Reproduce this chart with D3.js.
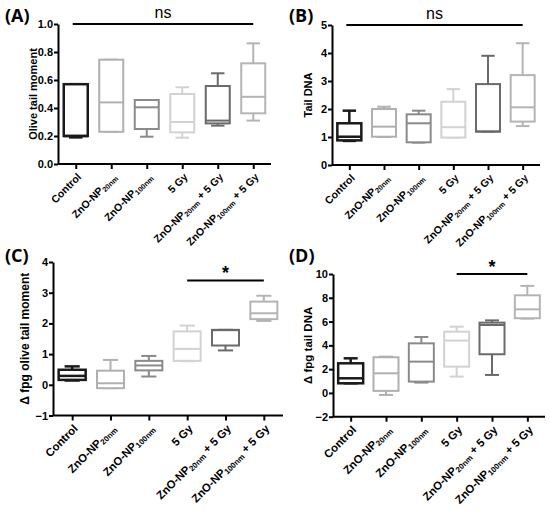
<!DOCTYPE html>
<html>
<head>
<meta charset="utf-8">
<script src="https://cdn.jsdelivr.net/npm/d3@7"></script>
<style>
    body { margin: 0; background: #fff; }
    text { font-family: "Liberation Sans", Arial, sans-serif; }
    .tag { font-family: "Open Sans", "Liberation Sans", sans-serif; font-weight: bold; font-size: 18px; }
</style>
</head>
<body>
<div id="chart"></div>
<script>
// groups on the x axis, "_" marks the subscript part
const categories = ["Control", "ZnO-NP_20nm", "ZnO-NP_100nm", "5 Gy", "ZnO-NP_20nm + 5 Gy", "ZnO-NP_100nm + 5 Gy"];

// five number summaries per group: [min, q1, median, q3, max]
const oliveTail = [
    [0.19, 0.20, 0.20, 0.57, 0.57],
    [0.23, 0.23, 0.44, 0.745, 0.745],
    [0.195, 0.25, 0.405, 0.457, 0.457],
    [0.188, 0.226, 0.30, 0.50, 0.548],
    [0.274, 0.29, 0.31, 0.557, 0.648],
    [0.31, 0.362, 0.48, 0.719, 0.862]
];
const tailDna = [
    [0.86, 0.88, 1.01, 1.49, 1.94],
    [1.0, 1.01, 1.37, 2.0, 2.08],
    [0.8, 0.81, 1.49, 1.81, 1.94],
    [0.98, 0.98, 1.35, 2.26, 2.71],
    [1.19, 1.19, 1.2, 2.89, 3.9],
    [1.39, 1.55, 2.06, 3.21, 4.35]
];
const fpgOlive = [
    [0.14, 0.16, 0.29, 0.49, 0.60],
    [-0.11, -0.11, 0.05, 0.46, 0.81],
    [0.27, 0.47, 0.63, 0.78, 0.94],
    [0.77, 0.78, 1.17, 1.74, 1.93],
    [1.12, 1.28, 1.78, 1.79, 1.79],
    [2.08, 2.14, 2.33, 2.71, 2.9]
];
const fpgTail = [
    [0.81, 0.81, 1.23, 2.49, 2.91],
    [-0.17, 0.17, 1.65, 3.0, 3.05],
    [0.87, 0.95, 2.63, 4.17, 4.7],
    [1.37, 2.21, 4.4, 5.15, 5.57],
    [1.51, 3.25, 5.71, 5.91, 6.1],
    [6.25, 6.28, 7.03, 8.21, 9.0]
];

const ticksA = [0, 0.2, 0.4, 0.6, 0.8, 1.0];
const ticksB = [0, 1, 2, 3, 4, 5];
const ticksC = [-1, 0, 1, 2, 3, 4];
const ticksD = [-2, 0, 2, 4, 6, 8, 10];

// significance bars: [from group, to group, level]
const sigA = [0, 5, 1.0];
const sigB = [0, 5, 5.0];
const sigC = [3, 5, 3.4];
const sigD = [3, 5, 10];

const boxColors = ["#1a1a1a", "#b0b0b0", "#8a8a8a", "#d2d2d2", "#6a6a6a", "#b4b4b4"];

const W = 550, H = 515;

const svg = d3.select("#chart").append("svg")
    .attr("width", W)
    .attr("height", H);

// layout for each panel
const panels = [
    {tag: "(A)", tagX: 5, tagY: 22, data: oliveTail, ticks: ticksA, fmt: d3.format(".1f"),
     x0: 58, x1: 271, yTop: 24, yBot: 164, label: "Olive tail moment", labX: 33, labSize: 11,
     catSize: 10.5, sig: sigA, sigText: "ns", boxW: 24},
    {tag: "(B)", tagX: 289, tagY: 22, data: tailDna, ticks: ticksB, fmt: d3.format("d"),
     x0: 332, x1: 540, yTop: 25, yBot: 165, label: "Tail DNA", labX: 308, labSize: 11,
     catSize: 10.5, sig: sigB, sigText: "ns", boxW: 24},
    {tag: "(C)", tagX: 5, tagY: 262, data: fpgOlive, ticks: ticksC, fmt: d3.format("d"),
     x0: 53, x1: 283, yTop: 262, yBot: 415.5, label: "\u0394 fpg olive tail moment", labX: 25, labSize: 12,
     catSize: 11.3, sig: sigC, sigText: "*", boxW: 27},
    {tag: "(D)", tagX: 289, tagY: 262, data: fpgTail, ticks: ticksD, fmt: d3.format("d"),
     x0: 333, x1: 545, yTop: 274, yBot: 416.7, label: "\u0394 fpg tail DNA", labX: 308, labSize: 11.5,
     catSize: 11.3, sig: sigD, sigText: "*", boxW: 25}
];

panels.forEach(drawPanel);

function drawPanel(p) {
    const g = svg.append("g");

    let x = d3.scalePoint()
        .domain(categories)
        .range([p.x0, p.x1])
        .padding(0.5);

    let y = d3.scaleLinear()
        .domain(d3.extent(p.ticks))
        .range([p.yBot, p.yTop]);

    // panel letter
    g.append("text")
        .attr("class", "tag")
        .attr("x", p.tagX)
        .attr("y", p.tagY)
        .text(p.tag);

    // y axis
    let yAxis = g.append("g")
        .attr("transform", `translate(${p.x0},0)`)
        .call(d3.axisLeft(y).tickValues(p.ticks).tickFormat(p.fmt).tickSize(4).tickPadding(1).tickSizeOuter(0));

    // x axis
    let xAxis = g.append("g")
        .attr("transform", `translate(0,${p.yBot})`)
        .call(d3.axisBottom(x).tickSize(5).tickSizeOuter(0));
    xAxis.select(".domain").attr("d", `M${p.x0},0H${p.x1}`);

    [yAxis, xAxis].forEach(a => {
        a.select(".domain").attr("stroke", "#000").attr("stroke-width", 2);
        a.selectAll(".tick line").attr("stroke", "#000").attr("stroke-width", 2);
    });
    yAxis.selectAll(".tick text")
        .attr("font-size", 11)
        .attr("font-weight", "bold")
        .attr("font-family", "Liberation Sans, Arial, sans-serif")
        .attr("fill", "#000");

    // rotated group labels with subscripts
    xAxis.selectAll(".tick text").remove();
    xAxis.selectAll(".tick").append("text")
        .attr("transform", "translate(3,11) rotate(-45)")
        .attr("text-anchor", "end")
        .attr("dy", "0.35em")
        .attr("font-size", p.catSize)
        .attr("font-weight", "bold")
        .attr("font-family", "Liberation Sans, Arial, sans-serif")
        .attr("fill", "#000")
        .each(function (d) {
            let t = d3.select(this);
            let m = d.match(/^([^_]*)(?:_(\S+))?(.*)$/);
            t.append("tspan").text(m[1]);
            if (m[2]) {
                t.append("tspan").attr("font-size", p.catSize * 0.7).attr("dy", 2).text(m[2]);
                t.append("tspan").attr("dy", -2).text(m[3]);
            }
        });

    // y axis title
    g.append("text")
        .attr("transform", `translate(${p.labX},${(p.yTop + p.yBot) / 2}) rotate(-90)`)
        .attr("text-anchor", "middle")
        .attr("dy", "0.35em")
        .attr("font-size", p.labSize)
        .attr("font-weight", "bold")
        .text(p.label);

    // boxes
    let box = g.append("g")
        .selectAll("g")
        .data(p.data.map((s, i) => ({cat: categories[i], s: s, color: boxColors[i], i: i})))
        .join("g")
        .attr("stroke", d => d.color)
        .attr("stroke-width", d => d.i === 0 ? 2.5 : 2)
        .attr("fill", "none");

    let hw = p.boxW / 2, cw = p.boxW * 0.28;

    // whiskers
    box.append("line")
        .attr("x1", d => x(d.cat)).attr("x2", d => x(d.cat))
        .attr("y1", d => y(d.s[3])).attr("y2", d => y(d.s[4]));
    box.append("line")
        .attr("x1", d => x(d.cat)).attr("x2", d => x(d.cat))
        .attr("y1", d => y(d.s[1])).attr("y2", d => y(d.s[0]));
    box.append("line")
        .attr("x1", d => x(d.cat) - cw).attr("x2", d => x(d.cat) + cw)
        .attr("y1", d => y(d.s[4])).attr("y2", d => y(d.s[4]));
    box.append("line")
        .attr("x1", d => x(d.cat) - cw).attr("x2", d => x(d.cat) + cw)
        .attr("y1", d => y(d.s[0])).attr("y2", d => y(d.s[0]));

    box.append("rect")
        .attr("x", d => x(d.cat) - hw)
        .attr("width", p.boxW)
        .attr("y", d => y(d.s[3]))
        .attr("height", d => y(d.s[1]) - y(d.s[3]))
        .attr("fill", "#fff");

    box.append("line")
        .attr("x1", d => x(d.cat) - hw).attr("x2", d => x(d.cat) + hw)
        .attr("y1", d => y(d.s[2])).attr("y2", d => y(d.s[2]));

    // significance bar
    let sy = y(p.sig[2]);
    let sx1 = x(categories[p.sig[0]]) - (p.sigText === "ns" ? 3 : 0);
    let sx2 = x(categories[p.sig[1]]);
    g.append("line")
        .attr("x1", sx1).attr("x2", sx2)
        .attr("y1", sy).attr("y2", sy)
        .attr("stroke", "#000")
        .attr("stroke-width", 2);
    g.append("text")
        .attr("x", (sx1 + sx2) / 2)
        .attr("y", p.sigText === "ns" ? sy - 6 : sy - 1)
        .attr("text-anchor", "middle")
        .attr("font-size", p.sigText === "ns" ? 16 : 18)
        .attr("font-weight", p.sigText === "ns" ? "normal" : "bold")
        .attr("font-family", "Open Sans, Liberation Sans, sans-serif")
        .text(p.sigText);
}
</script>
</body>
</html>
